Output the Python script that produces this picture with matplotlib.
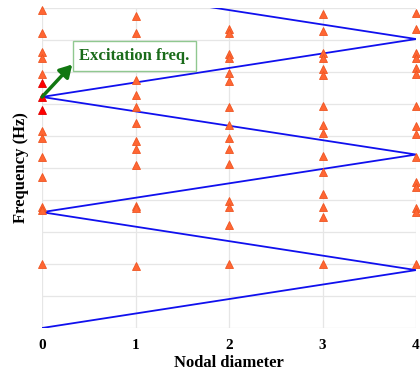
import matplotlib
matplotlib.use("Agg")
import matplotlib.pyplot as plt

# Nodal diameters
nd_ticks = [0, 1, 2, 3, 4]

# Natural frequencies (arbitrary units) per nodal diameter
freq_nd0 = [9.94, 9.22, 8.63, 8.44, 7.94, 6.16, 5.94, 5.34, 4.72, 3.78, 3.69, 2.00]
freq_nd1 = [9.75, 9.22, 8.38, 7.75, 7.28, 6.91, 6.41, 5.84, 5.59, 5.09, 3.81, 3.75, 1.94]
freq_nd2 = [9.34, 9.22, 8.56, 8.44, 7.97, 7.72, 6.91, 6.34, 5.94, 5.59, 5.13, 3.97, 3.78, 3.22, 2.00]
freq_nd3 = [9.81, 9.28, 8.59, 8.44, 8.09, 7.91, 6.94, 6.34, 6.09, 5.38, 4.88, 4.19, 3.78, 3.47, 2.00]
freq_nd4 = [9.84, 9.34, 8.59, 8.44, 8.13, 7.94, 6.94, 6.31, 6.06, 5.34, 4.56, 4.41, 3.75, 3.63, 2.00]

# Highlighted (resonant) modes at ND 0
red_nd = [0, 0, 0]
red_freq = [7.66, 7.22, 6.81]

# Excitation zig-zag lines
zig_x = [0, 4, 0, 4, 0, 4, 0]
zig_y = [0.0, 1.81, 3.62, 5.42, 7.22, 9.03, 10.84]

# Annotation
exc_point = (0, 7.22)
exc_text_pos = (0.40, 8.50)
exc_label = "Excitation freq."

serif = ["Liberation Serif", "DejaVu Serif"]

fig = plt.figure(figsize=(4.2, 3.73), dpi=100)
ax = fig.add_axes([0.1, 0.1206, 0.8905, 0.858])

ax.set_xlim(0, 4)
ax.set_ylim(0, 10)
ax.set_xticks(nd_ticks)
ax.set_yticks(range(0, 11))
ax.set_yticklabels([])
ax.grid(True, color="#e6e6e6", lw=0.9)
ax.set_axisbelow(True)
for s in ax.spines.values():
    s.set_visible(False)
ax.tick_params(length=0, pad=8)
for lab in ax.get_xticklabels():
    lab.set_fontfamily(serif)
    lab.set_fontweight("bold")
    lab.set_fontsize(11)

ax.plot(zig_x, zig_y, color="#1010ee", lw=1.3, zorder=2)

mk = dict(marker="^", ls="none", ms=6.2, mfc="#ff6633", mec="#ee5522",
          mew=0.6, clip_on=False, zorder=3)
for xv, ys in zip(nd_ticks, [freq_nd0, freq_nd1, freq_nd2, freq_nd3, freq_nd4]):
    ax.plot([xv] * len(ys), ys, **mk)
ax.plot(red_nd, red_freq, marker="^", ls="none", ms=6.2, mfc="#ff0000",
        mec="#e00000", mew=0.6, clip_on=False, zorder=4)

ax.annotate(exc_label, xy=exc_point, xytext=exc_text_pos,
            ha="left", va="center", color="#1a6b1a",
            fontsize=12, fontweight="bold", family=serif,
            bbox=dict(boxstyle="square,pad=0.4", fc="white", ec="#90c890", lw=1),
            arrowprops=dict(arrowstyle="<|-,head_width=0.35,head_length=0.6",
                            color="#117711", lw=2.5, shrinkA=0, shrinkB=0,
                            relpos=(0.0, 0.45)),
            zorder=5)

ax.set_xlabel("Nodal diameter", family=serif, fontweight="bold", fontsize=12, labelpad=2)
ax.set_ylabel("Frequency (Hz)", family=serif, fontweight="bold", fontsize=12, labelpad=1)

fig.savefig("out.png", dpi=100)
